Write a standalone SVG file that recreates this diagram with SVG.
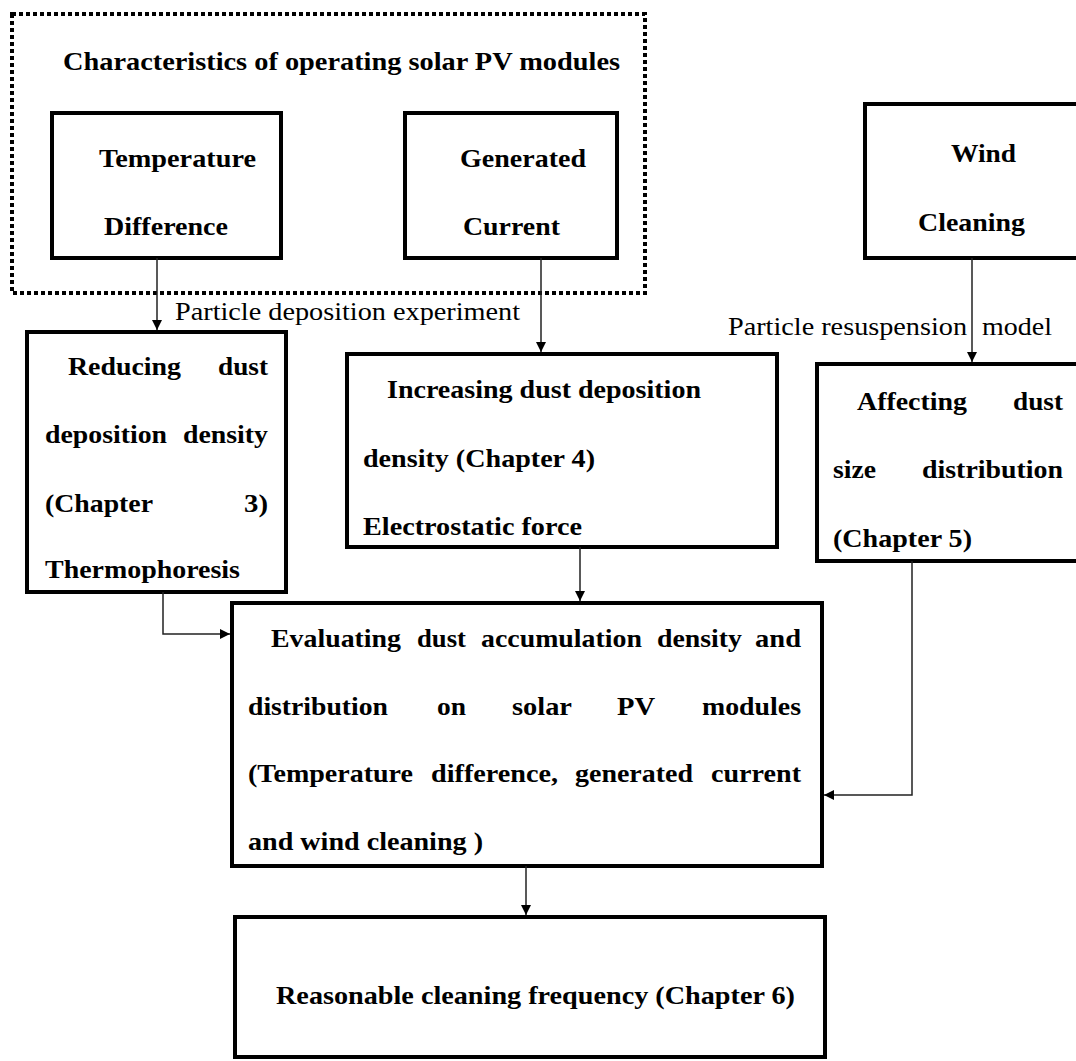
<svg xmlns="http://www.w3.org/2000/svg" width="1076" height="1061" viewBox="0 0 1076 1061">
<defs>
<style>
.box{fill:#fff;stroke:#000;stroke-width:4}
.dot{fill:none;stroke:#000;stroke-width:4;stroke-dasharray:4 3}
text{font-family:'Liberation Serif','Tinos','Times New Roman',Times,'Nimbus Roman','FreeSerif',serif;font-size:25px;fill:#000}
.b{font-weight:bold}
.c{fill:none;stroke:#222;stroke-width:1.5}
</style>
<marker id="ah" viewBox="0 0 10 10" refX="10" refY="5" markerWidth="10" markerHeight="10" markerUnits="userSpaceOnUse" orient="auto">
<path d="M0,0 L10,5 L0,10 z" fill="#000"/>
</marker>
</defs>
<rect width="1076" height="1061" fill="#fff"/>

<g id="group-characteristics">
<rect class="dot" x="12" y="14" width="633" height="279"/>
<text class="b" x="63" y="70" textLength="557" lengthAdjust="spacingAndGlyphs">Characteristics of operating solar PV modules</text>
</g>

<g id="node-temperature">
<rect class="box" x="52" y="113" width="229" height="145"/>
<text class="b" x="99" y="167" textLength="157" lengthAdjust="spacingAndGlyphs">Temperature</text>
<text class="b" x="104" y="235" textLength="124" lengthAdjust="spacingAndGlyphs">Difference</text>
</g>

<g id="node-generated">
<rect class="box" x="405" y="113" width="212" height="145"/>
<text class="b" x="460" y="167" textLength="126" lengthAdjust="spacingAndGlyphs">Generated</text>
<text class="b" x="463" y="235" textLength="97" lengthAdjust="spacingAndGlyphs">Current</text>
</g>

<g id="node-wind">
<rect class="box" x="865" y="104" width="220" height="154"/>
<text class="b" x="951" y="162" textLength="65" lengthAdjust="spacingAndGlyphs">Wind</text>
<text class="b" x="918" y="231" textLength="107" lengthAdjust="spacingAndGlyphs">Cleaning</text>
</g>

<g id="node-reducing">
<rect class="box" x="27" y="332" width="259" height="260"/>
<text class="b" x="68" y="375" textLength="113" lengthAdjust="spacingAndGlyphs">Reducing</text>
<text class="b" x="218" y="375" textLength="50" lengthAdjust="spacingAndGlyphs">dust</text>
<text class="b" x="45" y="443" textLength="122" lengthAdjust="spacingAndGlyphs">deposition</text>
<text class="b" x="183" y="443" textLength="85" lengthAdjust="spacingAndGlyphs">density</text>
<text class="b" x="45" y="512" textLength="108" lengthAdjust="spacingAndGlyphs">(Chapter</text>
<text class="b" x="244" y="512" textLength="24" lengthAdjust="spacingAndGlyphs">3)</text>
<text class="b" x="45" y="578" textLength="195" lengthAdjust="spacingAndGlyphs">Thermophoresis</text>
</g>

<g id="node-increasing">
<rect class="box" x="347" y="354" width="430" height="193"/>
<text class="b" x="387" y="398" textLength="314" lengthAdjust="spacingAndGlyphs">Increasing dust deposition</text>
<text class="b" x="363" y="467" textLength="232" lengthAdjust="spacingAndGlyphs">density (Chapter 4)</text>
<text class="b" x="363" y="535" textLength="219" lengthAdjust="spacingAndGlyphs">Electrostatic force</text>
</g>

<g id="node-affecting">
<rect class="box" x="817" y="364" width="263" height="197"/>
<text class="b" x="857" y="410" textLength="110" lengthAdjust="spacingAndGlyphs">Affecting</text>
<text class="b" x="1013" y="410" textLength="50" lengthAdjust="spacingAndGlyphs">dust</text>
<text class="b" x="833" y="478" textLength="43" lengthAdjust="spacingAndGlyphs">size</text>
<text class="b" x="922" y="478" textLength="141" lengthAdjust="spacingAndGlyphs">distribution</text>
<text class="b" x="833" y="547" textLength="139" lengthAdjust="spacingAndGlyphs">(Chapter 5)</text>
</g>

<g id="node-evaluating">
<rect class="box" x="232" y="603" width="590" height="263"/>
<text class="b" x="271" y="647" textLength="130" lengthAdjust="spacingAndGlyphs">Evaluating</text>
<text class="b" x="417" y="647" textLength="49" lengthAdjust="spacingAndGlyphs">dust</text>
<text class="b" x="481" y="647" textLength="161" lengthAdjust="spacingAndGlyphs">accumulation</text>
<text class="b" x="657" y="647" textLength="85" lengthAdjust="spacingAndGlyphs">density</text>
<text class="b" x="755" y="647" textLength="46" lengthAdjust="spacingAndGlyphs">and</text>
<text class="b" x="248" y="715" textLength="140" lengthAdjust="spacingAndGlyphs">distribution</text>
<text class="b" x="437" y="715" textLength="29" lengthAdjust="spacingAndGlyphs">on</text>
<text class="b" x="512" y="715" textLength="60" lengthAdjust="spacingAndGlyphs">solar</text>
<text class="b" x="617" y="715" textLength="38" lengthAdjust="spacingAndGlyphs">PV</text>
<text class="b" x="702" y="715" textLength="99" lengthAdjust="spacingAndGlyphs">modules</text>
<text class="b" x="248" y="782" textLength="165" lengthAdjust="spacingAndGlyphs">(Temperature</text>
<text class="b" x="431" y="782" textLength="127" lengthAdjust="spacingAndGlyphs">difference,</text>
<text class="b" x="575" y="782" textLength="118" lengthAdjust="spacingAndGlyphs">generated</text>
<text class="b" x="711" y="782" textLength="90" lengthAdjust="spacingAndGlyphs">current</text>
<text class="b" x="248" y="850" textLength="235" lengthAdjust="spacingAndGlyphs">and wind cleaning )</text>
</g>

<g id="node-reasonable">
<rect class="box" x="235" y="917" width="590" height="140"/>
<text class="b" x="276" y="1004" textLength="519" lengthAdjust="spacingAndGlyphs">Reasonable cleaning frequency (Chapter 6)</text>
</g>

<g id="connectors">
<line class="c" x1="157" y1="258" x2="157" y2="330" marker-end="url(#ah)"/>
<line class="c" x1="541" y1="258" x2="541" y2="352" marker-end="url(#ah)"/>
<line class="c" x1="972" y1="258" x2="972" y2="362" marker-end="url(#ah)"/>
<line class="c" x1="580" y1="547" x2="580" y2="601" marker-end="url(#ah)"/>
<polyline class="c" points="163,592 163,634 230,634" marker-end="url(#ah)"/>
<polyline class="c" points="912,561 912,795 824,795" marker-end="url(#ah)"/>
<line class="c" x1="526" y1="866" x2="526" y2="915" marker-end="url(#ah)"/>
</g>

<g id="labels">
<text x="175" y="320" textLength="345" lengthAdjust="spacingAndGlyphs">Particle deposition experiment</text>
<text x="728" y="335" textLength="239" lengthAdjust="spacingAndGlyphs">Particle resuspension</text>
<text x="982" y="335" textLength="70" lengthAdjust="spacingAndGlyphs">model</text>
</g>
</svg>
